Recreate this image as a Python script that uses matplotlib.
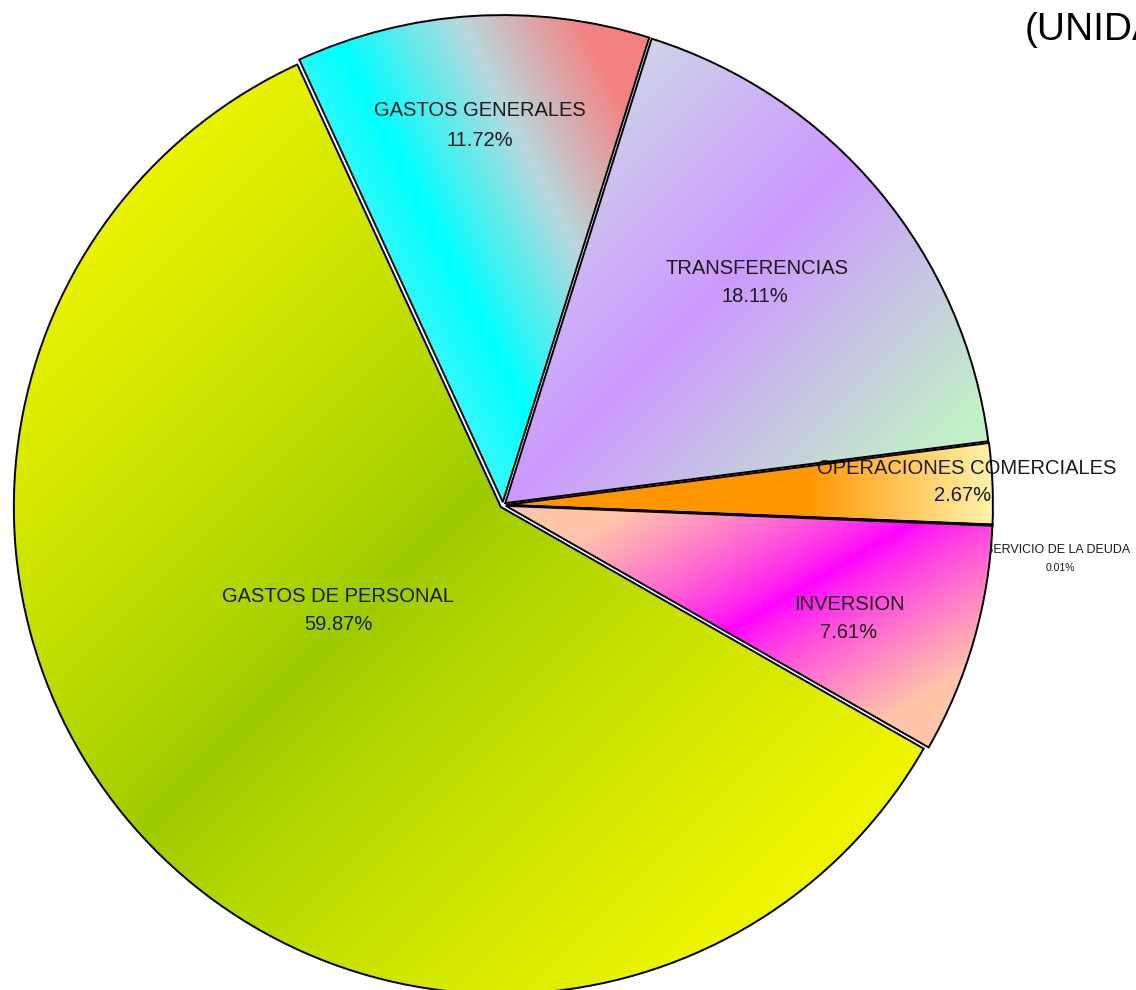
import numpy as np
import matplotlib
matplotlib.use('Agg')
import matplotlib.pyplot as plt

# ---------------- data ----------------
categories = ['GASTOS DE PERSONAL', 'INVERSION', 'SERVICIO DE LA DEUDA',
              'OPERACIONES COMERCIALES', 'TRANSFERENCIAS', 'GASTOS GENERALES']
shares = [59.87, 7.61, 0.01, 2.67, 18.11, 11.72]
pct_labels = ['59.87%', '7.61%', '0.01%', '2.67%', '18.11%', '11.72%']
title_text = '(UNIDADES)'

# ---------------- layout ----------------
W, H = 1136, 990
CX, CY, R = 503, 505, 487          # pie centre / radius in pixels

def px2d(px, py):
    return (px - CX) / R, (CY - py) / R

FONT = ['Liberation Sans Narrow', 'Liberation Sans', 'DejaVu Sans']

fig = plt.figure(figsize=(W / 100, H / 100), dpi=100)
ax = fig.add_axes([0, 0, 1, 1])

wedges, _ = ax.pie(shares, startangle=114.7, counterclock=True, radius=1,
                   center=(0, 0), explode=[0.006] * len(shares), normalize=True,
                   wedgeprops=dict(facecolor='none', edgecolor='black',
                                   linewidth=1.4, zorder=3))

# ---------------- gradient fills ----------------
N = 700
g = np.linspace(-1.06, 1.06, N)
X, Y = np.meshgrid(g, g)

def c(hexs):
    hexs = hexs.lstrip('#')
    return np.array([int(hexs[i:i + 2], 16) for i in (0, 2, 4)], float) / 255

def lerp(c1, c2, t):
    t = np.clip(t, 0, 1)[..., None]
    return c1 * (1 - t) + c2 * t

def grad_personal():
    t = (X - Y) / np.sqrt(2)
    d = np.abs(t + 0.05) / 1.0
    return lerp(c('#9ccb00'), c('#eef500'), d ** 0.85)

def grad_inversion():
    s = X * 0.51 - Y * 0.86
    d = np.abs(s - 0.46) / 0.32
    return lerp(c('#ff00ff'), c('#ffc4aa'), d ** 0.8)

def grad_servicio():
    return np.ones(X.shape + (3,)) * c('#ff66cc')

def grad_oper():
    t = (X - 0.62) / 0.38
    return lerp(c('#ff9600'), c('#fff2a8'), t)

def grad_transf():
    t = (X - Y) / np.sqrt(2)
    neg = lerp(c('#cc99ff'), c('#cdd8e6'), -t / 0.5)
    pos = lerp(c('#cc99ff'), c('#c2f0c8'), t / 0.55)
    return np.where((t < 0)[..., None], neg, pos)

def grad_generales():
    s = 0.89 * X + 0.45 * Y
    left = lerp(c('#00ffff'), c('#9cecf0'), (0.13 - s) / 0.35)
    mid = lerp(c('#00ffff'), c('#b8d8dc'), (s - 0.13) / 0.24)
    right = lerp(c('#b8d8dc'), c('#f58282'), (s - 0.37) / 0.22)
    out = np.where((s < 0.13)[..., None], left, mid)
    out = np.where((s > 0.37)[..., None], right, out)
    return out

grads = [grad_personal, grad_inversion, grad_servicio, grad_oper,
         grad_transf, grad_generales]

for w, gf in zip(wedges, grads):
    img = gf()
    im = ax.imshow(img, origin='lower', extent=(-1.06, 1.06, -1.06, 1.06),
                   interpolation='bilinear', zorder=1)
    im.set_clip_path(w)

# ---------------- labels ----------------
label_pos = {  # pixel centres of (name line, pct line)
    'GASTOS DE PERSONAL': ((338, 597), (338, 624)),
    'INVERSION': ((849, 604), (849, 632)),
    'SERVICIO DE LA DEUDA': ((1058, 550), (1060, 568)),
    'OPERACIONES COMERCIALES': ((967, 469), (963, 496)),
    'TRANSFERENCIAS': ((757, 269), (755, 296)),
    'GASTOS GENERALES': ((480, 111), (480, 140)),
}
for cat, pct in zip(categories, pct_labels):
    (nx, ny), (qx, qy) = label_pos[cat]
    small = cat == 'SERVICIO DE LA DEUDA'
    fs = 9 if small else 14.5
    fs2 = 7.5 if small else 14.5
    z = 0.5 if small else 2
    x1, y1 = px2d(nx, ny)
    x2, y2 = px2d(qx, qy)
    ax.text(x1, y1, cat, ha='center', va='center', fontsize=fs,
            family=FONT, color='#1a1a1a', zorder=z)
    ax.text(x2, y2, pct, ha='center', va='center', fontsize=fs2,
            family=FONT, color='#1a1a1a', zorder=z)

# title (partially outside the canvas, as in the original)
tx, ty = px2d(1025, 40)
ax.text(tx, ty, title_text, ha='left', va='baseline', fontsize=28,
        family=FONT, color='black', zorder=5)

ax.set_xlim(-CX / R, (W - CX) / R)
ax.set_ylim(-(H - CY) / R, CY / R)
ax.set_aspect('auto')
ax.axis('off')

fig.savefig('out.png', dpi=100, facecolor='white')
